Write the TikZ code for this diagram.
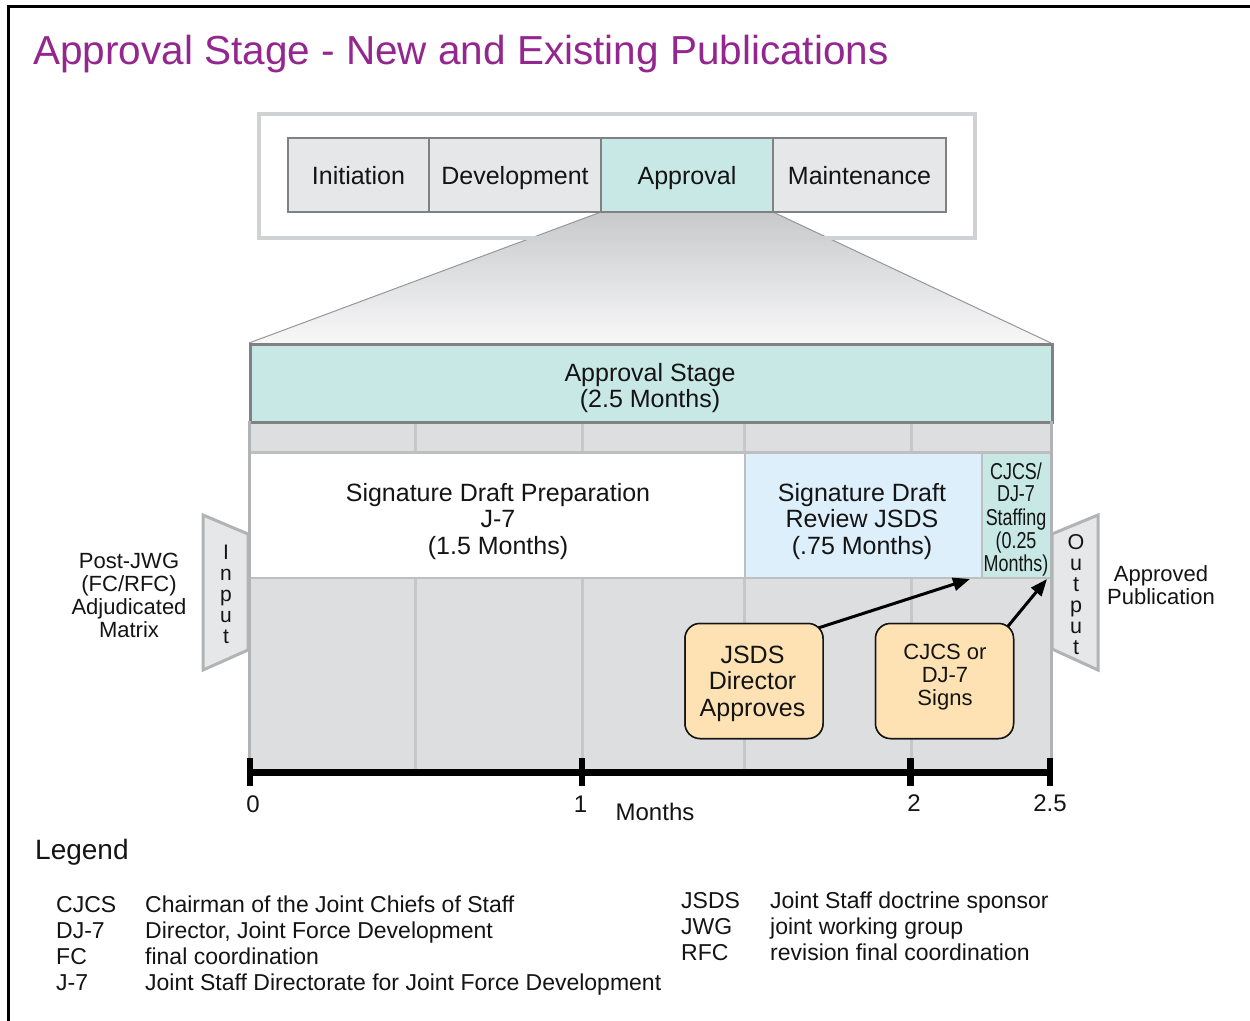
\documentclass[tikz,border=0pt]{standalone}
\usepackage{fontspec}
\setmainfont{Liberation Sans}
\usepackage{graphicx}
\usetikzlibrary{arrows.meta}
\newcommand\fsz[2]{\fontsize{#1pt}{#2pt}\selectfont}
\definecolor{titlepurple}{RGB}{147,39,143}
\definecolor{tealfill}{RGB}{200,232,230}
\definecolor{bluefill}{RGB}{220,239,250}
\definecolor{cellgray}{RGB}{221,222,224}
\definecolor{phasegray}{RGB}{230,231,233}
\definecolor{phaseborder}{RGB}{128,129,131}
\definecolor{lightline}{RGB}{198,199,201}
\definecolor{boxline}{RGB}{190,191,193}
\definecolor{peach}{RGB}{254,226,180}
\definecolor{frameline}{RGB}{208,209,211}
\definecolor{ioborder}{RGB}{178,179,181}
\definecolor{traptop}{RGB}{200,201,203}
\definecolor{trapbot}{RGB}{248,248,249}
\definecolor{edgegray}{RGB}{150,151,153}
\definecolor{inktext}{RGB}{20,20,20}
\begin{document}
\begin{tikzpicture}[x=1pt,y=-1pt,
  txt/.style={inner sep=0pt, text=inktext},
  phase/.style={draw=phaseborder, line width=2pt, fill=phasegray, inner sep=0pt,
    font=\fsz{25}{30}, minimum height=74pt, text height=18pt, text depth=0pt, text=inktext},
  cellbox/.style={draw=boxline, line width=2pt, inner sep=0pt, anchor=north west},
  actbox/.style={draw=inktext, line width=1.5pt, fill=peach, rounded corners=15pt,
    minimum width=138pt, minimum height=115pt, inner sep=0pt},
  conn/.style={line width=3pt, draw=black, -{Triangle[length=17pt,width=13pt]}},
  iobox/.style={draw=ioborder, fill=phasegray, line width=3pt, line join=miter},
  tick/.style={line width=6.5pt, draw=black},
  legab/.style={txt, anchor=base west, font=\fsz{23}{26}},
]
\useasboundingbox (0,0) rectangle (1250,1020);
\fill[white] (0,0) rectangle (1250,1020);
\draw[line width=3pt, black] (8,1022) -- (8,6) -- (1252,6);

% title
\node[txt, anchor=base west, text=titlepurple, font=\fsz{40.5}{48}] (title) at (33,64)
  {Approval Stage - New and Existing Publications};

% zoom trapezoid
\shade[top color=traptop, bottom color=trapbot] (601,212) -- (773,212) -- (1051,343) -- (249,343) -- cycle;
\draw[edgegray, line width=1pt] (601,212) -- (249,343);
\draw[edgegray, line width=1pt] (773,212) -- (1051,343);

% phase frame
\draw[frameline, line width=4pt] (259,114) rectangle (975,238);
\node[phase, minimum width=141pt] (ini) at (358.5,175) {Initiation};
\node[phase, minimum width=172pt] (dev) at (515,175) {Development};
\node[phase, minimum width=172pt, fill=tealfill] (app) at (687,175) {Approval};
\node[phase, minimum width=173pt] (mnt) at (859.5,175) {Maintenance};

% stage area
\fill[cellgray] (249,421) rectangle (1051,772);
\foreach \x in {415,582,744,911} \draw[lightline, line width=3pt] (\x,421) -- (\x,772);
\draw[boxline, line width=1.5pt] (249,452) -- (1051,452);
\node[cellbox, fill=white, minimum width=495pt, minimum height=125pt] (prep) at (249,452) {};
\node[cellbox, fill=bluefill, minimum width=237pt, minimum height=125pt] (review) at (744,452) {};
\node[cellbox, fill=tealfill, minimum width=70pt, minimum height=125pt] (staff) at (981,452) {};
\node[draw=phaseborder, line width=2.5pt, fill=tealfill, minimum width=802pt, minimum height=78pt,
  inner sep=0pt, anchor=north west] (stage) at (249,343) {};
\draw[ioborder, line width=3pt] (249,421) -- (249,772);
\draw[ioborder, line width=3pt] (1051,421) -- (1051,772);

\node[txt, align=center, font=\fsz{25}{26}] (stagetxt) at (650,388.5) {Approval Stage\\(2.5 Months)};
\node[txt, align=center, font=\fsz{25}{26.5}] (preptxt) at (498,521.5) {Signature Draft Preparation\\J-7\\(1.5 Months)};
\node[txt, align=center, font=\fsz{25}{26.5}] (reviewtxt) at (862,521.5) {Signature Draft\\Review JSDS\\(.75 Months)};
\node[txt, font=\fsz{23}{22}] (stafftxt) at (1016,520.5)
  {\scalebox{0.78}[1]{\begin{tabular}{@{}c@{}}CJCS/\\DJ-7\\Staffing\\(0.25\\Months)\end{tabular}}};

% input / output
\draw[iobox] (203,515) -- (248,534) -- (248,650) -- (203,670) -- cycle;
\node[txt, align=center, font=\fsz{21}{21}] (inputtxt) at (226,594) {I\\n\\p\\u\\t};
\draw[iobox] (1052,534) -- (1098,515) -- (1098,670) -- (1052,649) -- cycle;
\node[txt, align=center, font=\fsz{21.5}{21}] (outputtxt) at (1076,595) {O\\u\\t\\p\\u\\t};

\node[txt, align=center, font=\fsz{22}{23}] (inlabel) at (129,595.5) {Post-JWG\\(FC/RFC)\\Adjudicated\\Matrix};
\node[txt, align=center, font=\fsz{22}{22.5}] (outlabel) at (1161,585) {Approved\\Publication};

% action boxes and arrows
\coordinate (tipA) at (970,579);
\coordinate (tipB) at (1047,579);
\node[actbox] (jsds) at (754,681) {};
\node[actbox] (cjcs) at (944.5,681) {};
\draw[conn] ([shift={(-8,6)}]jsds.north east) -- (tipA);
\draw[conn] ([shift={(-10,8)}]cjcs.north east) -- (tipB);
\node[actbox] at (754,681) {};
\node[actbox] at (944.5,681) {};
\node[txt, align=center, font=\fsz{25}{26.5}] (jsdstxt) at (752.5,683.5) {JSDS\\Director\\Approves};
\node[txt, align=center, font=\fsz{22}{23}] (cjcstxt) at (945,677.5) {CJCS or\\DJ-7\\Signs};

% time axis
\draw[line width=7.5pt, black] (249,772.5) -- (1051,772.5);
\foreach \x/\n in {250/t0,582/t1,910.5/t2,1050/t3} \draw[tick] (\x,758) -- (\x,786);
\node[txt, anchor=base, font=\fsz{24}{26}] (l0) at (253,812) {0};
\node[txt, anchor=base, font=\fsz{24}{26}] (l1) at (580.5,812) {1};
\node[txt, anchor=base, font=\fsz{24}{26}] (l2) at (914,811) {2};
\node[txt, anchor=base, font=\fsz{24}{26}] (l3) at (1050,811) {2.5};
\node[txt, anchor=base, font=\fsz{24}{26}] (months) at (655,820) {Months};

% legend
\node[txt, anchor=base west, font=\fsz{28}{30}] (legend) at (35,859) {Legend};
\node[legab] (a1) at (56,912) {CJCS};
\node[legab] (d1) at (145,912) {Chairman of the Joint Chiefs of Staff};
\node[legab] (a2) at (56,938) {DJ-7};
\node[legab] (d2) at (145,938) {Director, Joint Force Development};
\node[legab] (a3) at (56,964) {FC};
\node[legab] (d3) at (145,964) {final coordination};
\node[legab] (a4) at (56,990) {J-7};
\node[legab] (d4) at (145,990) {Joint Staff Directorate for Joint Force Development};
\node[legab] (a5) at (681,908) {JSDS};
\node[legab] (d5) at (770,908) {Joint Staff doctrine sponsor};
\node[legab] (a6) at (681,934) {JWG};
\node[legab] (d6) at (770,934) {joint working group};
\node[legab] (a7) at (681,960) {RFC};
\node[legab] (d7) at (770,960) {revision final coordination};
\end{tikzpicture}
\end{document}
